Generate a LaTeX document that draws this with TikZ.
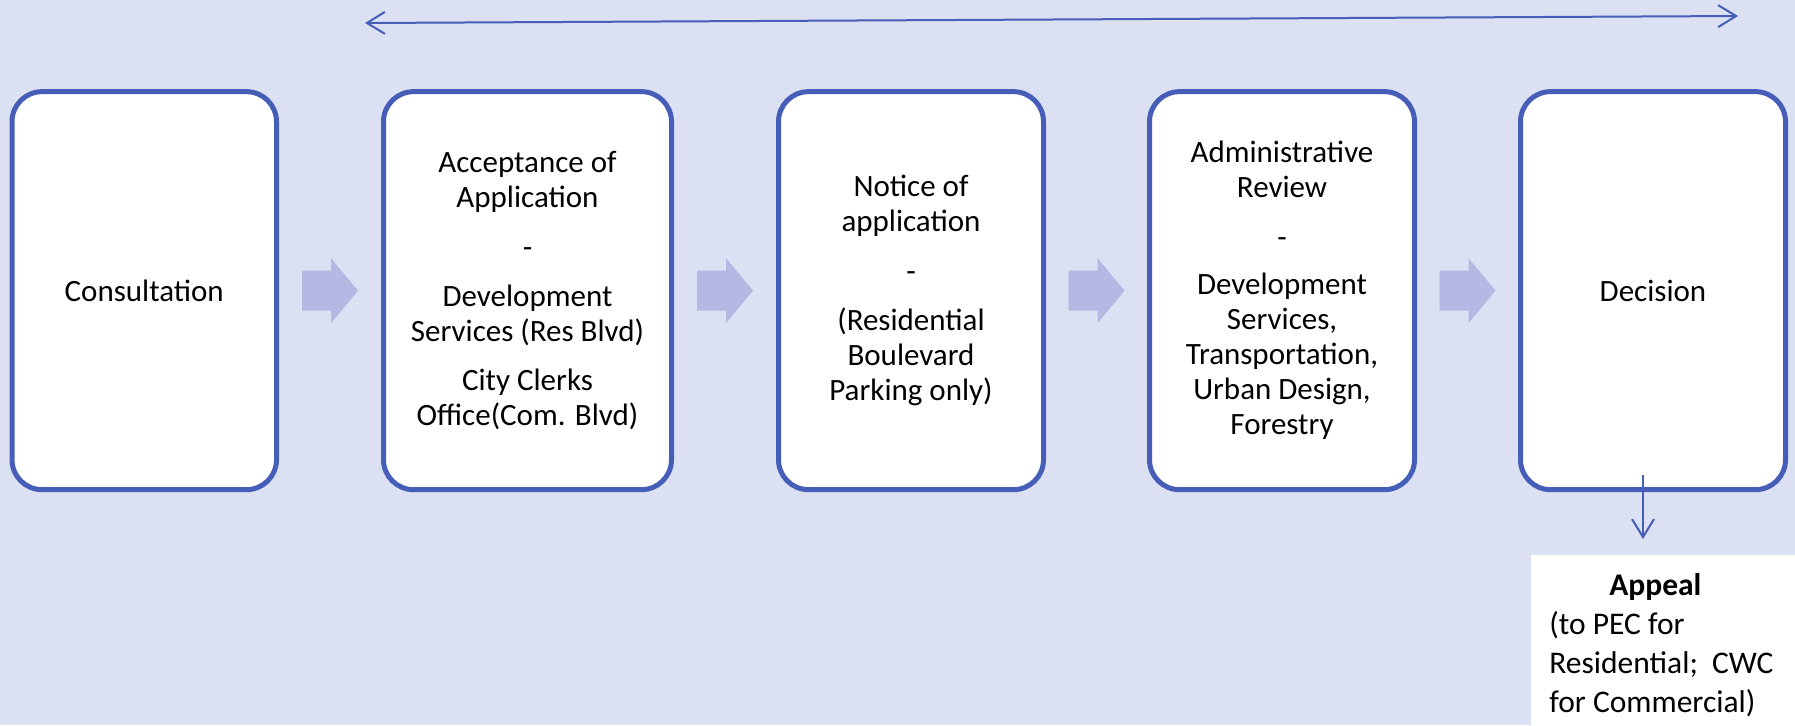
\documentclass[tikz,border=0pt]{standalone}
\usepackage{fontspec}
\setmainfont{Carlito}
\usetikzlibrary{arrows.meta,calc}
\definecolor{bg}{RGB}{219,224,243}
\definecolor{bord}{RGB}{70,94,184}
\definecolor{chev}{RGB}{179,185,226}
\begin{document}
\begin{tikzpicture}[x=0.5pt,y=-0.5pt,
  >={Straight Barb[length=9pt,width=11pt]},
  stepbox/.style={draw=bord, line width=2.5pt, rounded corners=15pt, fill=white,
    minimum height=199pt, align=center, inner sep=0pt,
    font=\fontsize{15.5pt}{17.5pt}\selectfont},
  arr/.style={draw=bord, line width=1pt},
  chevfill/.style={fill=chev}]
\fill[bg] (0,0) rectangle (1795,725);
\useasboundingbox (0,0) rectangle (1795,725);

\node[stepbox, minimum width=132.25pt] (b1) at (144.25,290.65) {Consultation};
\node[stepbox, minimum width=144pt] (b2) at (527.5,290.65)
  {Acceptance of\\Application\\[7.5pt]-\\[7pt]Development\\Services (Res Blvd)\\[7pt]City Clerks\\Office(Com. Blvd)};
\node[stepbox, minimum width=132.5pt] (b3) at (911,290.65)
  {Notice of\\application\\[7.5pt]-\\[7pt](Residential\\Boulevard\\Parking only)};
\node[stepbox, minimum width=132.5pt] (b4) at (1282,290.65)
  {Administrative\\Review\\[7.5pt]-\\[6pt]Development\\Services,\\Transportation,\\Urban Design,\\Forestry};
\node[stepbox, minimum width=132.5pt] (b5) at (1653,290.65) {Decision};

\foreach \a/\b/\n in {b1/b2/c1,b2/b3/c2,b3/b4/c3,b4/b5/c4}{
  \coordinate (\n) at ($(\a.east)!0.5!(\b.west)$);
  \fill[chevfill] (\n) ++(-28,-20) -- ++(29,0) -- ++(0,-12.5) -- ++(27,32.5)
    -- ++(-27,32.5) -- ++(0,-12.5) -- ++(-29,0) -- cycle;
}

\node[fill=white, anchor=north west, minimum width=132pt, minimum height=89.5pt,
  text width=114pt, inner sep=0pt, align=flush left,
  font=\fontsize{15.75pt}{19.5pt}\selectfont] (appeal) at (1531,555)
  {\makebox[106pt][c]{\bfseries Appeal}\\(to PEC for\\Residential;\ \ CWC\\for Commercial)};

\coordinate (tl) at (365,23);
\coordinate (tr) at (1738,16);
\draw[arr,<->] (tl) -- (tr);

\coordinate (ds) at (1643,475);
\draw[arr,->,shorten >=8pt] (ds) -- (ds |- appeal.north);
\end{tikzpicture}
\end{document}
